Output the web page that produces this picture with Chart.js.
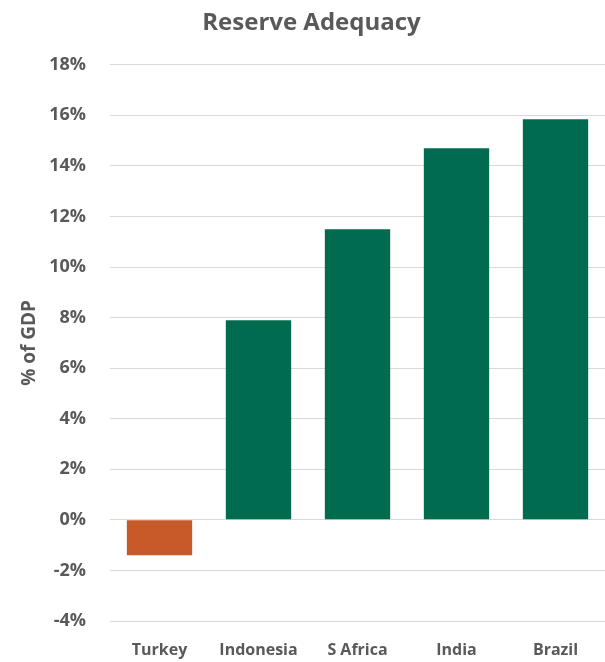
<!DOCTYPE html>
<html>
<head>
<meta charset="utf-8">
<script src="https://cdn.jsdelivr.net/npm/chart.js@4"></script>
<style>
  html, body { margin: 0; padding: 0; background: #fff; }
  #wrap { width: 605px; height: 662px; }
</style>
</head>
<body>
<div id="wrap"><canvas id="chart" width="605" height="662"></canvas></div>
<script>
const countries = ['Turkey', 'Indonesia', 'S Africa', 'India', 'Brazil'];
const reserves = [-1.4, 7.9, 11.5, 14.7, 15.85];
const barColors = ['#C65A28', '#006B4E', '#006B4E', '#006B4E', '#006B4E'];

const grey = '#595959';
const fontFamily = '"Open Sans", Lato, sans-serif';

const ctx = document.getElementById('chart').getContext('2d');

const chart = new Chart(ctx, {
  type: 'bar',
  data: {
    labels: countries,
    datasets: [{
      label: 'Reserve Adequacy',
      data: reserves,
      backgroundColor: barColors,
      borderWidth: 0,
      categoryPercentage: 1,
      barPercentage: 0.66
    }]
  },
  options: {
    responsive: false,
    animation: false,
    layout: { padding: { top: 0, right: 0, bottom: 0, left: 18 } },
    plugins: {
      legend: { display: false },
      tooltip: { enabled: false },
      title: {
        display: true,
        text: 'Reserve Adequacy',
        color: grey,
        font: { family: fontFamily, size: 24, weight: 'bold' },
        padding: { top: 9, bottom: 27 }
      }
    },
    scales: {
      x: {
        afterFit: (axis) => { axis.height = 41; },
        grid: { display: false, drawTicks: false },
        border: { display: false },
        ticks: {
          color: grey,
          font: { family: fontFamily, size: 16, weight: 'bold' },
          padding: 20,
          maxRotation: 0
        }
      },
      y: {
        min: -4,
        max: 18,
        afterFit: (axis) => { axis.width = 92; },
        grid: { color: '#d9d9d9', lineWidth: 1, drawTicks: false },
        border: { display: false },
        title: {
          display: true,
          text: '% of GDP',
          color: grey,
          font: { family: fontFamily, size: 19, weight: 'bold' },
          padding: 0
        },
        ticks: {
          stepSize: 2,
          color: grey,
          font: { family: fontFamily, size: 18, weight: 'bold' },
          padding: 24,
          callback: (v) => v + '%'
        }
      }
    }
  }
});
</script>
</body>
</html>
